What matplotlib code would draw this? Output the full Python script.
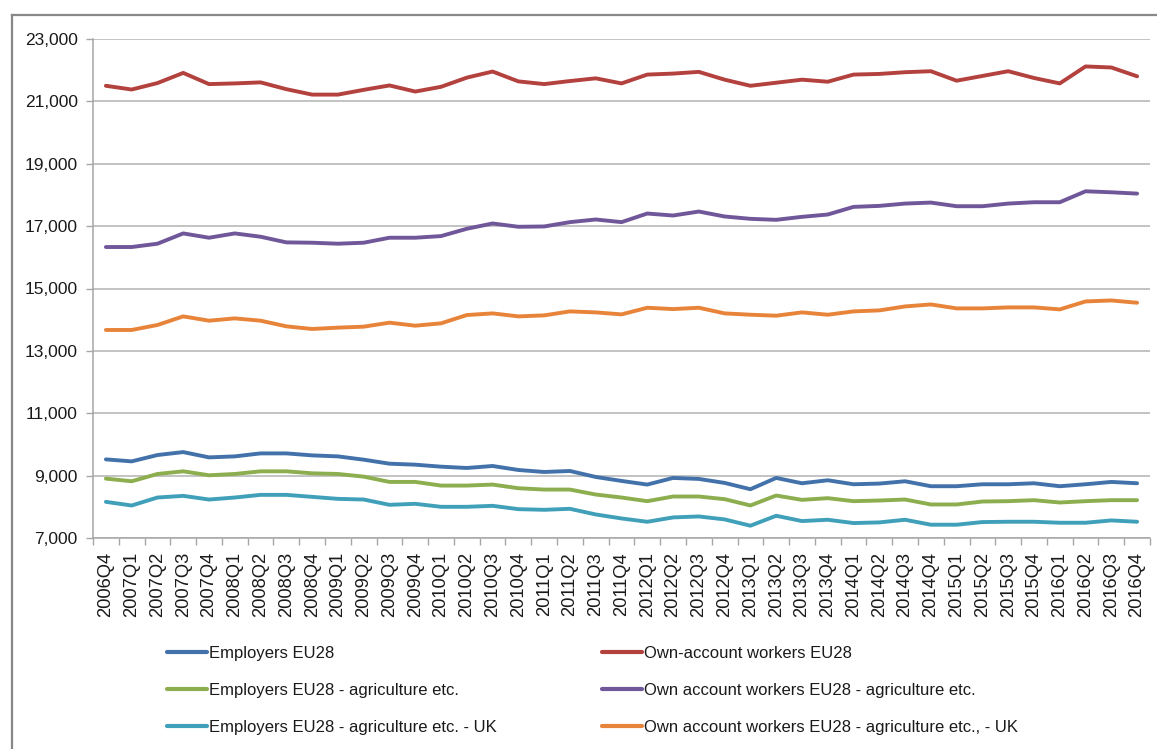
import matplotlib
matplotlib.use("Agg")
import matplotlib.pyplot as plt
from matplotlib.lines import Line2D
from matplotlib.ticker import FuncFormatter, FixedLocator

quarters = [f"{y}Q{q}" for y in range(2006, 2017) for q in range(1, 5)][3:]

employers_eu28 = [9521, 9457, 9660, 9755, 9585, 9617, 9713, 9713, 9649, 9617,
                  9511, 9383, 9351, 9287, 9245, 9309, 9181, 9117, 9149, 8957,
                  8830, 8713, 8926, 8894, 8766, 8564, 8926, 8755, 8851, 8723,
                  8745, 8819, 8660, 8660, 8723, 8723, 8755, 8660, 8723, 8798, 8755]
own_account_eu28 = [21500, 21380, 21587, 21913, 21554, 21576, 21609, 21391, 21217, 21217,
                    21370, 21511, 21315, 21467, 21761, 21957, 21641, 21554, 21652, 21739,
                    21576, 21859, 21891, 21946, 21696, 21500, 21598, 21696, 21630, 21859,
                    21880, 21935, 21967, 21663, 21815, 21967, 21750, 21576, 22120, 22087, 21804]
employers_agri = [8904, 8819, 9053, 9138, 9011, 9053, 9138, 9138, 9074, 9053,
                  8968, 8798, 8798, 8681, 8681, 8713, 8596, 8553, 8553, 8394,
                  8298, 8181, 8330, 8330, 8245, 8043, 8362, 8223, 8277, 8181,
                  8202, 8234, 8075, 8075, 8170, 8181, 8213, 8138, 8181, 8213, 8213]
own_account_agri = [16330, 16330, 16436, 16766, 16628, 16766, 16660, 16479, 16468, 16436,
                    16468, 16628, 16628, 16681, 16915, 17085, 16979, 16989, 17128, 17213,
                    17128, 17404, 17340, 17468, 17309, 17234, 17202, 17298, 17372, 17617,
                    17649, 17723, 17755, 17638, 17638, 17723, 17766, 17766, 18117, 18085, 18043]
employers_agri_uk = [8159, 8042, 8298, 8351, 8234, 8298, 8383, 8383, 8319, 8255,
                     8234, 8064, 8096, 8000, 8000, 8032, 7925, 7904, 7936, 7755,
                     7627, 7520, 7660, 7691, 7596, 7394, 7713, 7543, 7585, 7479,
                     7500, 7585, 7426, 7426, 7511, 7521, 7521, 7489, 7489, 7564, 7521]
own_account_agri_uk = [13670, 13670, 13830, 14106, 13968, 14042, 13968, 13787, 13702, 13745,
                       13776, 13904, 13808, 13883, 14149, 14202, 14106, 14138, 14266, 14234,
                       14170, 14383, 14340, 14383, 14202, 14159, 14128, 14234, 14159, 14266,
                       14298, 14425, 14489, 14362, 14362, 14394, 14394, 14330, 14585, 14617, 14543]

labels_emp = ["Employers EU28", "Employers EU28 - agriculture etc.",
              "Employers EU28 - agriculture etc. - UK"]
labels_own = ["Own-account workers EU28", "Own account workers EU28 - agriculture etc.",
              "Own account workers EU28 - agriculture etc., - UK"]
y_ticks = list(range(7000, 23001, 2000))

W, H = 1157, 749
fig = plt.figure(figsize=(W / 100, H / 100), dpi=100)
plt.rcParams['font.family'] = ['Liberation Sans', 'DejaVu Sans']

ax = fig.add_axes([93 / W, (H - 538) / H, (1150 - 93) / W, (538 - 39) / H])

x = list(range(len(quarters)))
lw = 2.8
series_emp = [(employers_eu28, '#4372AA'), (employers_agri, '#8DAE4F'),
              (employers_agri_uk, '#40A0BA')]
series_own = [(own_account_eu28, '#B3413E'), (own_account_agri, '#70579A'),
              (own_account_agri_uk, '#E8843A')]
h_emp, h_own = [], []
for (vals, c), lab in zip(series_emp, labels_emp):
    h, = ax.plot(x, vals, color=c, lw=lw, solid_joinstyle='round', solid_capstyle='round', label=lab)
    h_emp.append(h)
for (vals, c), lab in zip(series_own, labels_own):
    h, = ax.plot(x, vals, color=c, lw=lw, solid_joinstyle='round', solid_capstyle='round', label=lab)
    h_own.append(h)

ax.set_xlim(-0.5, len(quarters) - 0.5)
ax.set_ylim(7000, 23000)
ax.set_yticks(y_ticks)
ax.yaxis.set_major_formatter(FuncFormatter(lambda v, p: f"{int(v):,}"))
ax.set_xticks(x)
ax.set_xticklabels(quarters, rotation=90)
ax.xaxis.set_minor_locator(FixedLocator([i - 0.5 for i in range(len(quarters) + 1)]))
ax.tick_params(axis='x', which='major', length=0, pad=10, labelsize=13.2, colors='#1a1a1a')
ax.tick_params(axis='x', which='minor', length=5, color='#a6a6a6', width=1)
ax.tick_params(axis='y', length=5, color='#a6a6a6', width=1, labelsize=12.5,
               colors='#a6a6a6', labelcolor='#1a1a1a', pad=6)
ax.grid(axis='y', color='#b3b3b3', lw=1.1)
ax.set_axisbelow(True)
for s in ['top', 'right']:
    ax.spines[s].set_visible(False)
for s in ['left', 'bottom']:
    ax.spines[s].set_color('#a6a6a6')
    ax.spines[s].set_linewidth(1.1)

leg_kw = dict(frameon=False, fontsize=12, handlelength=2.4, handletextpad=0.1,
              labelspacing=1.32, borderpad=0, borderaxespad=0, loc='upper left')
l1 = fig.legend(handles=h_emp, labels=labels_emp,
                bbox_to_anchor=(167 / W, 1 - 646 / H), **leg_kw)
l2 = fig.legend(handles=h_own, labels=labels_own,
                bbox_to_anchor=(602 / W, 1 - 646 / H), **leg_kw)
for leg in (l1, l2):
    for t in leg.get_texts():
        t.set_color('#1a1a1a')
    for ln in leg.get_lines():
        ln.set_linewidth(3)

# chart border (left and top)
fig.add_artist(Line2D([12 / W, 12 / W], [0, 1 - 15 / H], color='#888888', lw=1.6,
                      transform=fig.transFigure))
fig.add_artist(Line2D([12 / W, 1], [1 - 15 / H, 1 - 15 / H], color='#888888', lw=1.6,
                      transform=fig.transFigure))

fig.savefig("out.png", dpi=100, facecolor='white')
